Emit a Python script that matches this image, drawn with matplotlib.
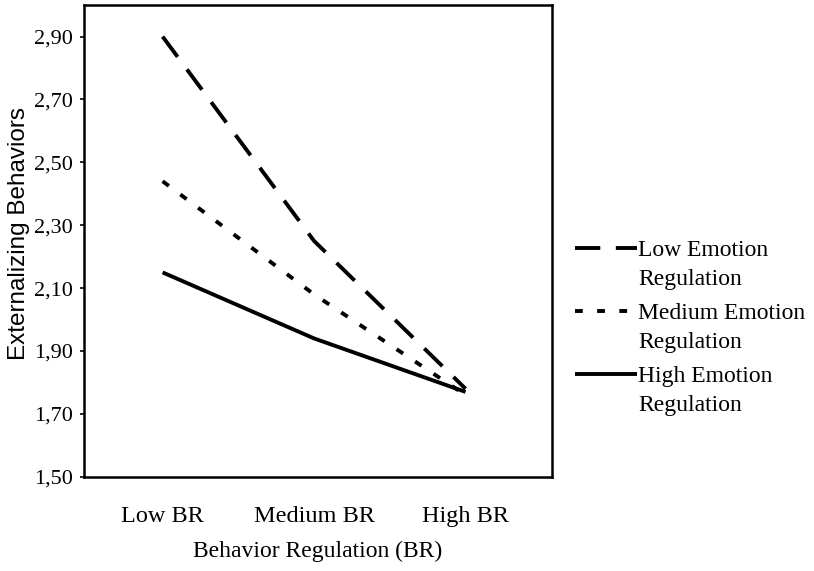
import matplotlib
matplotlib.use("Agg")
import matplotlib.pyplot as plt
from matplotlib.legend_handler import HandlerLine2D

# values
categories = ["Low BR", "Medium BR", "High BR"]
low_er = [2.90, 2.25, 1.78]
medium_er = [2.44, 2.08, 1.76]
high_er = [2.15, 1.94, 1.77]
series_labels = ["Low Emotion\nRegulation", "Medium Emotion\nRegulation",
                 "High Emotion\nRegulation"]
yticks = [1.50, 1.70, 1.90, 2.10, 2.30, 2.50, 2.70, 2.90]


class FirstLineHandler(HandlerLine2D):
    # put the legend line next to the first line of a two-line label
    def create_artists(self, legend, orig_handle, xdescent, ydescent,
                       width, height, fontsize, trans):
        artists = super().create_artists(legend, orig_handle, xdescent, ydescent,
                                         width, height, fontsize, trans)
        for a in artists:
            a.set_ydata([y + 0.68 * fontsize for y in a.get_ydata()])
        return artists


SERIF = "Liberation Serif"
SANS = "Liberation Sans"

fig = plt.figure(figsize=(8.14, 5.71), dpi=100)
ax = fig.add_axes([0.103, 0.165, 0.575, 0.826])

x = list(range(len(categories)))
lw = 2.8
l1, = ax.plot(x, low_er, color="black", linewidth=lw, dashes=(6.5, 4.0),
              dash_capstyle="butt")
l2, = ax.plot(x, medium_er, color="black", linewidth=lw, dashes=(2.0, 3.7),
              dash_capstyle="butt")
l3, = ax.plot(x, high_er, color="black", linewidth=lw, solid_capstyle="butt")

ax.set_xlim(-0.52, 2.57)
ax.set_ylim(1.50, 3.00)
ax.set_xticks(x)
ax.set_xticklabels(categories, fontsize=17.5, family=SERIF)
ax.set_yticks(yticks)
ax.set_yticklabels([f"{v:.2f}".replace(".", ",") for v in yticks],
                   fontsize=16, family=SERIF)
ax.tick_params(axis="x", length=0, pad=21)
ax.tick_params(axis="y", direction="out", length=3, width=1.2, pad=5)

ax.set_xlabel("Behavior Regulation (BR)", fontsize=17, family=SERIF, labelpad=10)
ax.set_ylabel("Externalizing Behaviors", fontsize=17.5, family=SANS)
ax.yaxis.set_label_coords(-0.114, 0.515)

for s in ax.spines.values():
    s.set_linewidth(1.8)
    s.set_color("black")

leg = fig.legend([l1, l2, l3], series_labels, loc="center left",
                 bbox_to_anchor=(0.706, 0.426), frameon=False,
                 prop={"family": SERIF, "size": 17},
                 handlelength=2.65, handletextpad=0.05, borderpad=0,
                 borderaxespad=0, labelspacing=0.55,
                 handler_map={l1: FirstLineHandler(), l2: FirstLineHandler(),
                              l3: FirstLineHandler()})
for t in leg.get_texts():
    t.set_linespacing(1.5)

fig.savefig("out.png", dpi=100)
